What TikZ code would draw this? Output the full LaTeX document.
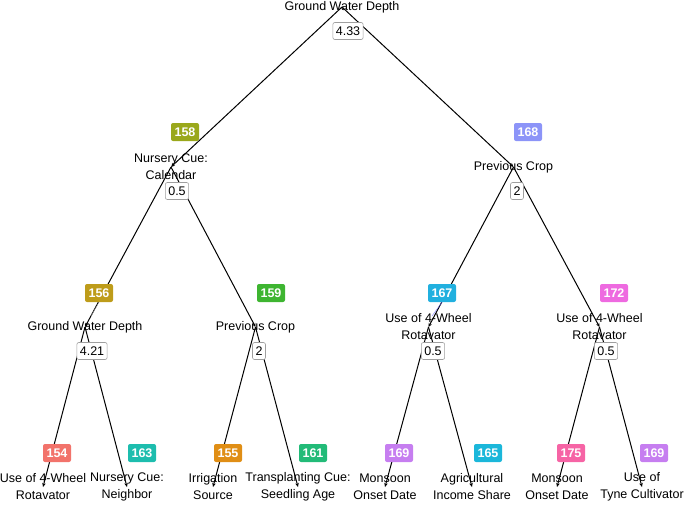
\documentclass[tikz,border=0pt]{standalone}
\usepackage{fontspec}
\setmainfont{Liberation Sans}
\usetikzlibrary{arrows.meta}
\definecolor{c154}{HTML}{F2736B}
\definecolor{c163}{HTML}{1DBDAE}
\definecolor{c155}{HTML}{E08E15}
\definecolor{c161}{HTML}{22BB78}
\definecolor{c169}{HTML}{C67EF0}
\definecolor{c165}{HTML}{1BB7DA}
\definecolor{c175}{HTML}{F664A5}
\definecolor{c172}{HTML}{EE6AE0}
\definecolor{c167}{HTML}{21B0DF}
\definecolor{c159}{HTML}{3EB531}
\definecolor{c156}{HTML}{BE9C1A}
\definecolor{c158}{HTML}{9AA81B}
\definecolor{c168}{HTML}{8C94F8}
\tikzset{
  lbl/.style={font=\fontsize{12.5}{17}\selectfont, align=center, inner sep=0pt},
  badge/.style={fill=#1, text=white, font=\bfseries\fontsize{12.5}{14}\selectfont,
    rounded corners=2pt, minimum width=28pt, minimum height=18pt, inner sep=1pt},
  valbox/.style={draw=gray!75, fill=white, rounded corners=2pt, line width=0.6pt,
    font=\fontsize{12.5}{14}\selectfont, minimum height=17pt, inner xsep=3pt, inner ysep=1pt},
  treeedge/.style={line width=1pt, -{Stealth[length=4pt,width=3.5pt]}},
  repel/.style={line width=0.3pt, draw=#1}
}
\begin{document}
\begin{tikzpicture}[x=1pt,y=-1pt]
\useasboundingbox (0,0) rectangle (685,504);
% node points
\coordinate (r) at (342,7);
\coordinate (a) at (171,167);
\coordinate (b) at (513.5,167);
\coordinate (c) at (85,327);
\coordinate (d) at (255.5,327);
\coordinate (e) at (428.5,327);
\coordinate (f) at (599.5,327);
\coordinate (l1) at (43,487);
\coordinate (l2) at (127,487);
\coordinate (l3) at (213,487);
\coordinate (l4) at (298,487);
\coordinate (l5) at (385,487);
\coordinate (l6) at (472,487);
\coordinate (l7) at (557,487);
\coordinate (l8) at (642,487);
% labels
\node[lbl] (tr) at (r) {Ground Water Depth};
\node[lbl] (ta) at (a) {Nursery Cue:\\Calendar};
\node[lbl] (tb) at (b) {Previous Crop};
\node[lbl] (tc) at (c) {Ground Water Depth};
\node[lbl] (td) at (d) {Previous Crop};
\node[lbl] (te) at (e) {Use of 4-Wheel\\Rotavator};
\node[lbl] (tf) at (f) {Use of 4-Wheel\\Rotavator};
\node[lbl] (t1) at (l1) {Use of 4-Wheel\\Rotavator};
\node[lbl] (t2) at (l2) {Nursery Cue:\\Neighbor};
\node[lbl] (t3) at (l3) {Irrigation\\Source};
\node[lbl] (t4) at (l4) {Transplanting Cue:\\Seedling Age};
\node[lbl] (t5) at (l5) {Monsoon\\Onset Date};
\node[lbl] (t6) at (l6) {Agricultural\\Income Share};
\node[lbl] (t7) at (l7) {Monsoon\\Onset Date};
\node[lbl] (t8) at (l8) {Use of\\Tyne Cultivator};
% edges
\draw[treeedge] (r) -- (a);
\draw[treeedge] (r) -- (b);
\draw[treeedge] (a) -- (c);
\draw[treeedge] (a) -- (d);
\draw[treeedge] (b) -- (e);
\draw[treeedge] (b) -- (f);
\draw[treeedge] (c) -- (l1);
\draw[treeedge] (c) -- (l2);
\draw[treeedge] (d) -- (l3);
\draw[treeedge] (d) -- (l4);
\draw[treeedge] (e) -- (l5);
\draw[treeedge] (e) -- (l6);
\draw[treeedge] (f) -- (l7);
\draw[treeedge] (f) -- (l8);
% badges
\node[badge=c158] (ba) at (185,132) {158};
\node[badge=c168] (bb) at (528,132) {168};
\node[badge=c156] (bc) at (99,293) {156};
\node[badge=c159] (bd) at (271,293) {159};
\node[badge=c167] (be) at (442,293) {167};
\node[badge=c172] (bf) at (614,293) {172};
\node[badge=c154] (b1) at (57,453) {154};
\node[badge=c163] (b2) at (142,453) {163};
\node[badge=c155] (b3) at (228,453) {155};
\node[badge=c161] (b4) at (313,453) {161};
\node[badge=c169] (b5) at (399,453) {169};
\node[badge=c165] (b6) at (488,453) {165};
\node[badge=c175] (b7) at (571,453) {175};
\node[badge=c169] (b8) at (654,453) {169};
% repel segments
\coordinate (pc) at (91,316);
\coordinate (pe) at (432,316);
\draw[repel=gray!70] (bc.south) -- (pc);
\draw[repel=blue!60] (be.south) -- (pe);
% split values
\node[valbox] (vr) at (348,31) {4.33};
\node[valbox] (va) at (177,191) {0.5};
\node[valbox] (vb) at (517,191) {2};
\node[valbox] (vc) at (92,351) {4.21};
\node[valbox] (vd) at (259,351) {2};
\node[valbox] (ve) at (433,351) {0.5};
\node[valbox] (vf) at (606,351) {0.5};
\end{tikzpicture}
\end{document}
